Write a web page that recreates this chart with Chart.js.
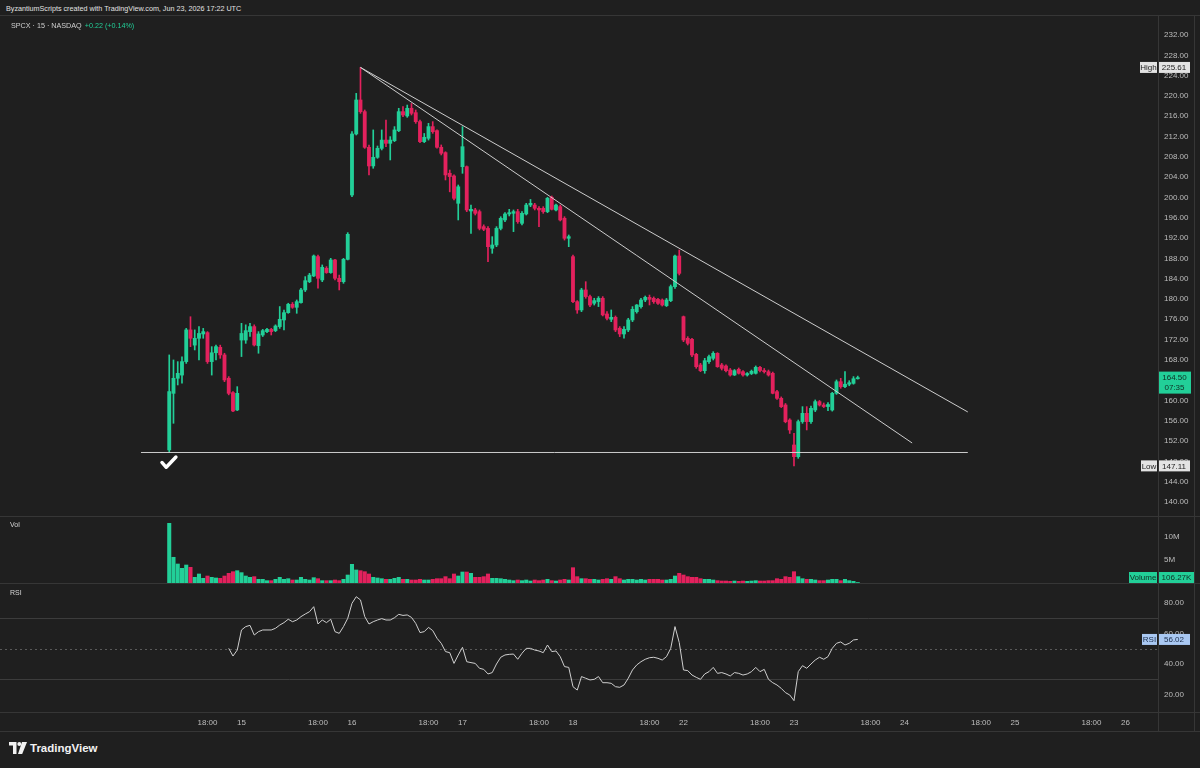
<!DOCTYPE html>
<html><head><meta charset="utf-8">
<script src="https://cdn.jsdelivr.net/npm/chart.js@4.4.1/dist/chart.umd.min.js"></script>
<style>
html,body{margin:0;padding:0;background:#1f1f1f;}
body{width:1200px;height:768px;position:relative;overflow:hidden;font-family:'Liberation Sans',Arial,sans-serif;}
.pane{position:absolute;left:0;width:1200px;}
.hl{position:absolute;left:0;width:1200px;height:1px;background:#363636;z-index:2;}
.vl{position:absolute;width:1px;background:#363636;z-index:2;}
#hdr{position:absolute;left:6px;top:4px;font-size:7.2px;color:#e2e2e2;z-index:3;white-space:nowrap;}
#sym{position:absolute;left:11px;top:21px;font-size:7.2px;color:#cfcfcf;z-index:3;white-space:nowrap;}
#sym .g{color:#22cf98;margin-left:3px;}
.lbl{position:absolute;left:10px;font-size:7px;color:#d6d6d6;z-index:3;}
#logo{position:absolute;left:9px;top:742px;display:flex;align-items:center;color:#f2f2f2;font-weight:bold;font-size:11.5px;z-index:3;}
#logo svg{margin-right:3px;}
</style></head>
<body>
<div id="hdr">ByzantiumScripts created with TradingView.com, Jun 23, 2026 17:22 UTC</div>
<div class="hl" style="top:15px"></div>
<div class="pane" style="top:15px;height:502px"><canvas id="cMain"></canvas></div>
<div id="sym">SPCX · 15 · NASDAQ<span class="g">+0.22 (+0.14%)</span></div>
<div class="hl" style="top:516px"></div>
<div class="pane" style="top:517px;height:66px"><canvas id="cVol"></canvas></div>
<div class="lbl" style="top:521px">Vol</div>
<div class="hl" style="top:583px"></div>
<div class="pane" style="top:584px;height:147px"><canvas id="cRsi"></canvas></div>
<div class="lbl" style="top:589px">RSI</div>
<div class="hl" style="top:712px"></div>
<div class="hl" style="top:731px"></div>
<div class="vl" style="left:1158px;top:15px;height:717px"></div>
<div class="vl" style="left:1194px;top:15px;height:717px"></div>
<div id="logo"><svg width="18" height="12" viewBox="0 0 18 12"><path d="M0 0H7.5V12H4V3.5H0Z" fill="#f2f2f2"/><circle cx="10.3" cy="2" r="2" fill="#f2f2f2"/><path d="M13 0H18L13.2 12H9Z" fill="#f2f2f2"/></svg>TradingView</div>

<script>
// ---------- data ----------
const barsPerDay = 26;
const firstBar = 9;
const dayLabels = ['14','15','16','17','18','22','23','24','25','26'];
const hourLabel = '18:00';
const hourBarOffset = 18;

const opens = [
150.25,161.4,164.37,165.0,167.65,173.9,170.9,172.25,173.1,173.36,167.65,169.4,170.47,168.97,164.37,161.54,158.13,
171.9,171.9,173.56,174.55,170.8,172.9,173.56,174.0,173.76,174.55,175.86,177.3,178.95,178.35,179.28,181.77,183.4,184.53,188.34,183.74,186.04,185.19,187.68,184.07,183.4,187.8,
200.48,212.5,219.2,216.9,209.87,206.2,207.9,209.67,211.3,210.66,211.18,213.15,216.9,216.05,217.56,216.7,214.93,210.99,211.65,213.95,213.16,209.88,208.83,204.76,204.23,198.84,
206.06,206.06,197.33,197.53,197.2,194.24,193.9,189.98,190.63,193.9,195.56,196.74,196.87,197.2,194.9,196.74,198.5,198.5,197.86,197.86,197.2,200.02,197.53,198.18,195.89,191.95,
188.33,179.47,177.83,181.77,180.46,179.15,179.47,180.13,177.04,175.99,176.38,174.22,173.1,173.89,175.86,177.49,178.48,179.79,180.32,180.12,179.92,179.79,178.68,179.66,182.42,188.46,
176.51,172.24,172.04,169.09,166.99,165.87,167.64,168.3,169.29,166.99,166.79,166.0,165.02,166.13,165.67,165.02,165.3,165.35,166.53,165.9,165.67,165.35,161.73,160.42,159.11,156.15,
151.23,148.93,155.83,157.47,155.83,158.12,159.77,159.11,158.8,158.12,161.41,163.7,162.72,163.2,163.37,164.28];

const highs = [
168.97,167.98,167.65,168.6,174.2,176.5,173.9,174.55,174.2,173.56,170.6,170.9,170.9,169.3,164.7,161.75,162.72,
175.2,174.9,175.2,174.9,173.56,174.0,174.2,174.2,174.9,178.5,177.8,179.15,179.3,179.8,182.1,184.4,185.05,188.66,188.66,186.7,186.37,188.0,187.8,184.7,188.0,193.06,
212.96,220.5,225.61,217.23,210.33,213.3,210.13,213.3,215.26,211.98,213.95,217.56,217.9,218.2,218.5,217.23,215.26,212.6,214.6,214.93,213.3,210.34,209.0,205.4,204.43,202.45,
213.94,206.2,198.5,197.86,197.53,194.6,194.24,192.27,194.24,196.2,197.0,197.66,197.53,197.66,197.2,198.84,199.6,198.84,198.18,198.18,200.02,200.28,198.7,198.5,196.2,192.6,
188.66,179.67,182.1,183.4,180.78,180.13,180.46,180.46,177.5,177.83,176.65,174.55,174.55,176.19,178.49,178.9,180.12,180.58,180.77,180.4,180.12,180.0,180.1,182.75,188.65,189.64,
176.64,172.57,172.24,169.29,167.32,168.3,168.96,169.61,169.42,167.3,167.0,166.3,166.1,166.4,165.9,165.5,166.0,166.8,166.7,166.3,166.0,165.6,162.0,160.7,159.4,156.4,
153.53,156.15,158.78,158.78,158.9,160.1,160.0,159.5,159.6,161.6,164.04,164.36,165.67,163.9,164.7,164.8];

const lows = [
149.75,155.5,163.05,163.4,167.3,170.6,169.95,168.0,172.25,167.3,165.0,168.0,168.3,163.7,161.1,157.8,158.0,
168.65,171.25,172.6,170.73,169.3,172.6,173.36,172.9,173.56,174.2,173.9,177.17,178.15,177.17,179.15,181.45,183.2,184.4,182.1,183.4,185.05,185.05,183.74,181.77,183.08,187.68,
200.15,212.3,216.57,209.67,204.43,205.74,207.7,209.35,210.0,207.38,210.99,212.96,215.9,215.78,216.24,214.6,210.8,210.8,211.3,212.63,209.68,208.37,203.44,201.1,199.5,195.56,
204.75,197.2,192.93,196.54,193.6,193.45,187.35,188.99,190.3,193.6,195.23,196.35,193.26,194.9,194.57,196.54,198.18,197.53,194.24,196.87,197.0,197.53,197.33,195.36,191.6,190.3,
179.27,177.17,177.5,180.13,178.49,178.8,178.49,176.65,175.86,175.53,173.56,172.58,172.25,173.56,175.53,177.2,178.2,179.46,178.81,179.13,178.9,178.6,178.5,179.46,182.09,184.72,
171.58,170.93,168.63,166.33,165.67,165.35,167.32,167.97,166.53,166.0,165.6,164.8,164.9,165.2,164.8,164.8,165.1,165.2,165.6,165.4,164.8,161.3,160.2,158.6,155.6,153.5,
147.11,148.6,155.5,154.19,155.5,157.8,158.9,158.6,158.0,157.9,161.2,162.4,162.5,162.9,163.2,164.2];

const closes = [
161.75,164.37,165.35,167.65,173.9,172.25,172.25,173.2,173.56,167.65,169.4,170.6,168.97,164.04,161.4,157.93,161.4,
173.2,173.76,174.55,170.93,173.1,173.76,174.0,173.56,174.67,175.99,177.3,178.95,178.35,179.47,181.77,183.6,184.7,188.47,184.07,186.24,185.19,187.68,184.07,183.4,187.8,192.73,
212.5,219.2,216.9,209.87,206.2,207.9,209.67,211.3,210.66,211.3,213.3,216.9,216.24,217.56,216.57,214.93,210.99,211.85,213.95,212.96,209.88,208.7,204.43,204.1,199.83,202.1,
210.0,197.53,197.66,196.87,193.9,193.72,190.3,190.63,193.9,195.89,196.74,197.0,197.2,195.23,196.87,198.5,198.84,197.86,197.53,197.2,199.83,197.66,198.5,195.56,191.95,192.27,
179.47,177.83,181.77,180.46,178.8,179.67,180.13,176.85,176.19,176.38,173.89,173.1,174.02,175.86,177.96,178.81,179.79,180.32,179.92,179.46,179.13,178.81,179.79,182.42,188.46,185.04,
171.91,171.25,168.96,166.66,165.87,167.84,168.63,169.29,166.66,166.33,165.87,165.02,165.87,165.35,165.02,165.3,165.75,166.53,165.9,165.67,165.02,161.41,160.42,158.78,155.82,154.18,
148.93,155.83,157.47,155.83,158.45,159.77,159.11,158.8,159.2,161.41,163.7,162.72,163.2,163.5,164.28,164.5];

// volume in millions of shares
const volumesM = [
12.97,5.59,4.13,3.19,3.91,3.41,1.23,1.96,1.01,1.52,1.23,1.09,1.01,1.52,2.10,2.46,2.68,
2.25,1.52,1.23,1.38,0.80,0.80,0.51,0.51,0.80,1.23,0.80,0.94,0.65,0.65,1.23,0.80,0.65,1.16,0.94,0.51,0.51,0.51,0.65,0.51,0.80,1.74,
4.06,2.83,2.68,2.46,1.96,1.23,1.09,0.94,0.80,0.80,1.01,1.23,0.80,0.80,0.65,0.65,0.80,0.65,0.65,0.80,0.94,0.94,1.38,0.94,1.96,1.52,
2.39,2.39,2.10,1.23,1.23,1.38,1.96,1.01,1.01,0.94,0.80,0.65,0.51,0.65,0.51,0.65,0.43,0.65,0.51,0.65,0.80,0.51,0.43,0.65,0.80,0.65,
3.33,1.38,0.94,0.94,0.80,0.80,0.65,0.80,0.94,0.80,1.38,0.94,0.65,0.80,0.80,0.65,0.80,0.65,0.80,0.80,0.80,0.65,0.65,0.80,1.52,2.10,
1.74,1.38,1.23,1.23,0.94,0.80,0.80,0.65,0.51,0.43,0.43,0.36,0.43,0.36,0.43,0.36,0.43,0.51,0.43,0.43,0.51,0.51,0.94,0.80,1.38,1.23,
2.46,1.38,0.94,0.80,0.80,0.65,0.51,0.51,0.65,0.80,0.80,0.51,0.80,0.51,0.36,0.10627];

// RSI(14), aligned so its last value belongs to the last candle
const rsiValues = [
50.2,45.2,49.1,62.2,64.4,65.2,58.9,61.1,62.2,62.2,62.2,63.3,65.4,67.0,69.2,67.6,68.7,70.9,72.6,74.1,77.4,
66.1,68.7,67.0,69.2,61.1,60.0,64.4,69.8,
79.6,83.9,81.8,70.9,66.1,67.6,68.7,69.6,68.7,68.7,70.2,72.4,71.7,72.0,70.4,66.5,60.5,61.1,63.9,61.8,56.8,53.5,48.1,47.4,40.4,45.9,
50.9,41.5,40.9,40.4,37.2,36.5,33.5,34.4,40.0,44.4,45.9,46.3,46.5,43.1,47.0,50.2,50.2,49.1,48.5,47.4,52.4,48.1,48.5,44.8,38.3,37.8,
25.2,23.0,31.8,30.7,29.6,30.0,31.8,27.8,27.8,27.4,25.2,24.8,26.3,30.7,36.1,39.4,41.5,43.1,44.1,44.4,43.7,42.6,44.8,50.2,64.4,54.0,
36.1,35.7,32.8,31.3,30.0,33.5,35.0,37.8,33.9,34.4,33.5,32.2,34.4,33.9,32.8,33.5,35.0,37.8,35.0,36.5,30.0,27.8,26.3,24.1,21.3,19.8,
16.1,35.0,38.9,37.2,40.0,42.6,44.4,43.1,44.8,50.2,53.5,54.4,52.4,53.5,55.7,56.02];
const rsiBands = [70, 50, 30];

// drawings: [bar index, price]
const trendUpper = [[54, 225.61], [196.9, 157.73]];
const trendLower = [[54, 225.61], [183.8, 151.62]];
const supportLine = [[2.35, 149.75], [196.9, 149.75]];
const countdown = '07:35';

// ---------- view / style ----------
const X_VIEW = [-30.82, 241.65];
const PRICE_VIEW = [137.04, 235.94];
const VOL_VIEW = [0, 14.35];
const RSI_VIEW = [8.69, 92.19];
const UP = '#22cf98', DOWN = '#e3215d';
const TXT = '#bdbdbd';
const FONT = "'Liberation Sans', Arial, sans-serif";

Chart.defaults.font.family = FONT;
Chart.defaults.color = TXT;

const N = opens.length;
const idx = [...Array(N).keys()];
const colors = idx.map(i => closes[i] >= opens[i] ? UP : DOWN);
const rsiStart = firstBar + N - rsiValues.length;

const axisFit = s => { s.width = 42; s.paddingTop = 0; s.paddingBottom = 0; };
const xHidden = () => ({ type: 'linear', min: X_VIEW[0], max: X_VIEW[1], offset: false, display: false, grid: { display: false, offset: false } });
const baseOpts = () => ({
  responsive: true, maintainAspectRatio: false, animation: false, events: [],
  layout: { padding: 0 },
  plugins: { legend: { display: false }, tooltip: { enabled: false } }
});
const yRight = (view, step, cb) => ({
  position: 'right', min: view[0], max: view[1],
  grid: { display: false, drawTicks: false }, border: { display: false },
  ticks: { stepSize: step, includeBounds: false, maxTicksLimit: 100, autoSkip: false, padding: 6, font: { size: 8 }, color: TXT, callback: cb },
  afterFit: axisFit
});

function box(ctx, x, yc, w, h, bg, fg, text) {
  ctx.fillStyle = bg; ctx.fillRect(x, yc - h / 2, w, h);
  ctx.fillStyle = fg; ctx.font = '8px ' + FONT; ctx.textAlign = 'center'; ctx.textBaseline = 'middle';
  ctx.fillText(text, x + w / 2, yc + 0.5);
}

const lineDs = (pts) => ({ type: 'line', data: pts.map(p => ({ x: p[0], y: p[1] })), borderColor: '#cdcdcd', borderWidth: 1, pointRadius: 0, order: 0 });

// ---------- main price chart ----------
const mainOverlay = {
  id: 'mainOverlay',
  afterDraw(chart) {
    const { ctx, chartArea: ca, scales: { x, y } } = chart;
    ctx.save();
    const cx = x.getPixelForValue(firstBar) - 0.8;
    const cy = y.getPixelForValue(supportLine[0][1]) + 10;
    ctx.strokeStyle = '#ffffff'; ctx.lineWidth = 3.4; ctx.lineCap = 'round'; ctx.lineJoin = 'round';
    ctx.beginPath(); ctx.moveTo(cx - 6.5, cy); ctx.lineTo(cx - 2.2, cy + 4.8); ctx.lineTo(cx + 7.5, cy - 5.5); ctx.stroke();
    const hi = Math.max(...highs), lo = Math.min(...lows);
    const yh = y.getPixelForValue(hi), yl = y.getPixelForValue(lo);
    box(ctx, ca.right - 18, yh, 17, 11, '#e3e3e3', '#222', 'High');
    box(ctx, ca.right, yh, 32, 11, '#e3e3e3', '#222', hi.toFixed(2));
    box(ctx, ca.right - 17, yl, 16, 11, '#e3e3e3', '#222', 'Low');
    box(ctx, ca.right, yl, 32, 11, '#e3e3e3', '#222', lo.toFixed(2));
    const last = closes[N - 1];
    const yp = y.getPixelForValue(last);
    ctx.fillStyle = UP; ctx.fillRect(ca.right, yp - 6, 33, 22);
    ctx.fillStyle = '#0f2f24'; ctx.font = '8px ' + FONT; ctx.textAlign = 'center'; ctx.textBaseline = 'middle';
    ctx.fillText(last.toFixed(2), ca.right + 16.5, yp + 0.5);
    ctx.fillText(countdown, ca.right + 16.5, yp + 10.5);
    ctx.restore();
  }
};

new Chart(document.getElementById('cMain'), {
  type: 'bar',
  data: { datasets: [
    lineDs(trendUpper), lineDs(trendLower), lineDs(supportLine),
    { data: idx.map(i => ({ x: firstBar + i, y: [lows[i], highs[i]] })), backgroundColor: colors, barThickness: 1, grouped: false, order: 2 },
    { data: idx.map(i => ({ x: firstBar + i, y: [opens[i], closes[i]] })), backgroundColor: colors, barThickness: 3.2, minBarLength: 1, grouped: false, order: 1 }
  ] },
  options: Object.assign(baseOpts(), {
    scales: { x: xHidden(), y: yRight(PRICE_VIEW, 4, v => v.toFixed(2)) }
  }),
  plugins: [mainOverlay]
});

// ---------- volume chart ----------
const volOverlay = {
  id: 'volOverlay',
  afterDraw(chart) {
    const { ctx, chartArea: ca, scales: { y } } = chart;
    const v = volumesM[N - 1];
    const yc = Math.min(y.getPixelForValue(v), ca.bottom - 5.5);
    ctx.save();
    box(ctx, ca.right - 29, yc, 28, 11, UP, '#0f2f24', 'Volume');
    box(ctx, ca.right, yc, 37, 11, UP, '#0f2f24', (v * 1000).toFixed(2) + 'K');
    ctx.restore();
  }
};
new Chart(document.getElementById('cVol'), {
  type: 'bar',
  data: { datasets: [
    { data: idx.map(i => ({ x: firstBar + i, y: volumesM[i] })), backgroundColor: colors, barThickness: 3.4, grouped: false }
  ] },
  options: Object.assign(baseOpts(), {
    scales: { x: xHidden(), y: yRight(VOL_VIEW, 5, v => v === 0 ? '' : v + 'M') }
  }),
  plugins: [volOverlay]
});

// ---------- RSI chart ----------
const timeTicks = [];
dayLabels.forEach((d, k) => {
  if (k > 0) timeTicks.push(k * barsPerDay);
  const h = k * barsPerDay + hourBarOffset;
  if (h <= X_VIEW[1]) timeTicks.push(h);
});
const rsiOverlay = {
  id: 'rsiOverlay',
  beforeDatasetsDraw(chart) {
    const { ctx, chartArea: ca, scales: { y } } = chart;
    ctx.save();
    rsiBands.forEach((b, k) => {
      const py = Math.round(y.getPixelForValue(b)) + 0.5;
      ctx.strokeStyle = k === 1 ? '#5a5a5a' : '#3c3c3c';
      ctx.lineWidth = 1;
      ctx.setLineDash(k === 1 ? [2, 3] : []);
      ctx.beginPath(); ctx.moveTo(ca.left, py); ctx.lineTo(ca.right, py); ctx.stroke();
    });
    ctx.restore();
  },
  afterDraw(chart) {
    const { ctx, chartArea: ca, scales: { y } } = chart;
    const v = rsiValues[rsiValues.length - 1];
    const yc = y.getPixelForValue(v);
    ctx.save();
    box(ctx, ca.right - 16, yc, 15, 11, '#a9c8f2', '#1b2d4a', 'RSI');
    box(ctx, ca.right, yc, 32, 11, '#a9c8f2', '#1b2d4a', v.toFixed(2));
    ctx.restore();
  }
};
new Chart(document.getElementById('cRsi'), {
  type: 'line',
  data: { datasets: [
    { data: rsiValues.map((v, i) => ({ x: rsiStart + i, y: v })), borderColor: '#cfcfcf', borderWidth: 1, pointRadius: 0, tension: 0 }
  ] },
  options: Object.assign(baseOpts(), {
    scales: {
      x: { type: 'linear', min: X_VIEW[0], max: X_VIEW[1], offset: false, position: 'bottom',
        grid: { display: false, drawTicks: false }, border: { display: false },
        afterBuildTicks: s => { s.ticks = timeTicks.map(v => ({ value: v })); },
        ticks: { autoSkip: false, maxRotation: 0, padding: 6, font: { size: 8 }, color: TXT,
          callback: v => { const d = Math.floor(v / barsPerDay); return (v - d * barsPerDay) === 0 ? dayLabels[d] : hourLabel; } },
        afterFit: s => { s.height = 19; s.paddingLeft = 0; s.paddingRight = 0; } },
      y: yRight(RSI_VIEW, 20, v => v.toFixed(2))
    }
  }),
  plugins: [rsiOverlay]
});
</script>
</body></html>
